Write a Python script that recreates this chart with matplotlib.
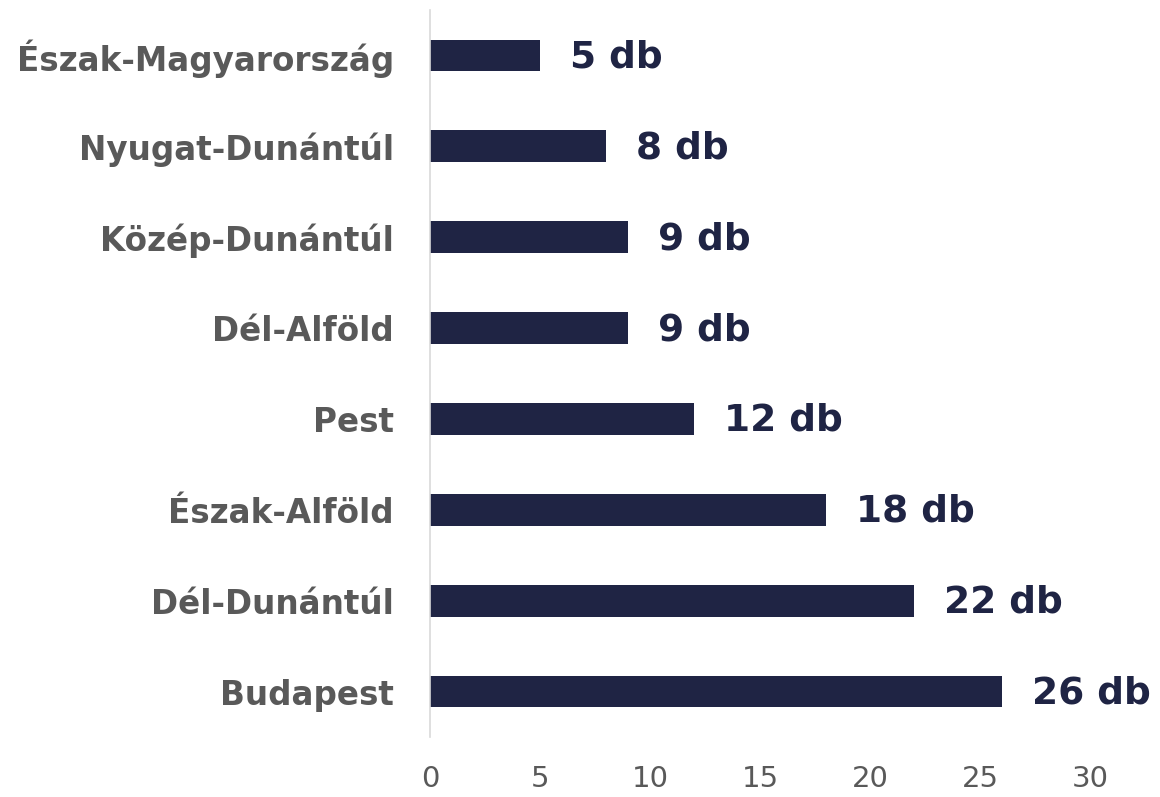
import matplotlib
matplotlib.use("Agg")
import matplotlib.pyplot as plt

regions = ["Budapest", "Dél-Dunántúl", "Észak-Alföld", "Pest",
           "Dél-Alföld", "Közép-Dunántúl", "Nyugat-Dunántúl", "Észak-Magyarország"]
counts = [26, 22, 18, 12, 9, 9, 8, 5]
xticks = [0, 5, 10, 15, 20, 25, 30]

navy = "#1f2444"
gray = "#595959"

plt.rcParams["font.family"] = ["DejaVu Sans"]

fig = plt.figure(figsize=(11.6, 7.97), dpi=100)
ax = fig.add_axes([430 / 1160, 60 / 797, 660 / 1160, 727 / 797])

ax.barh(range(len(regions)), counts, height=0.35, color=navy)
ax.set_xlim(0, 30)
ax.set_ylim(-0.5, len(regions) - 0.5)

ax.set_yticks(range(len(regions)))
ax.set_yticklabels(regions, fontsize=23.5, fontweight="bold", color=gray)
ax.set_xticks(xticks)
ax.set_xticklabels([str(t) for t in xticks], fontsize=21, color=gray)
ax.tick_params(axis="y", length=0, pad=26)
ax.tick_params(axis="x", length=0, pad=20)

for s in ["top", "right", "bottom"]:
    ax.spines[s].set_visible(False)
ax.spines["left"].set_color("#d9d9d9")
ax.spines["left"].set_linewidth(1.2)

for i, v in enumerate(counts):
    ax.annotate(f"{v} db", (v, i), xytext=(30, -2), textcoords="offset pixels",
                va="center", ha="left", fontsize=27, fontweight="bold",
                color=navy, annotation_clip=False)

fig.savefig("out.png", dpi=100)
